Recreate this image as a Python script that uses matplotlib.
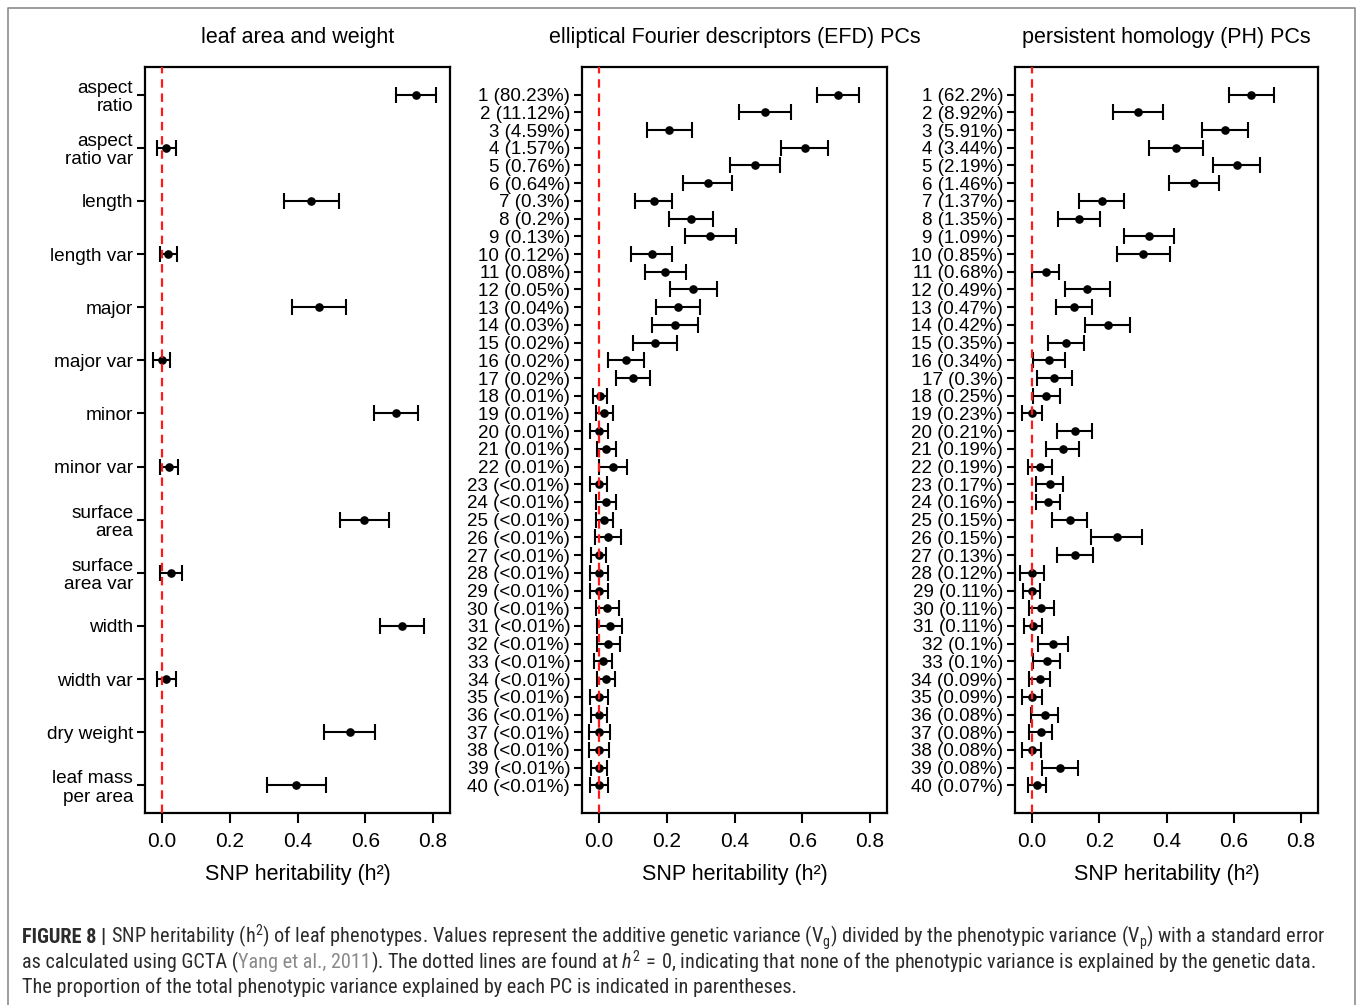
import matplotlib
matplotlib.use("Agg")
import matplotlib.pyplot as plt
from matplotlib import font_manager
import numpy as np

plt.rcParams['font.family'] = ['Liberation Sans', 'DejaVu Sans']

# ---------------- data ----------------
leaf_labels = ["aspect\nratio", "aspect\nratio var", "length", "length var", "major",
               "major var", "minor", "minor var", "surface\narea", "surface\narea var",
               "width", "width var", "dry weight", "leaf mass\nper area"]
leaf_h2 = [0.751, 0.012, 0.441, 0.019, 0.464, 0.000, 0.690, 0.021, 0.597, 0.026,
           0.708, 0.013, 0.554, 0.397]
leaf_se = [0.059, 0.028, 0.080, 0.026, 0.079, 0.025, 0.065, 0.027, 0.072, 0.032,
           0.065, 0.028, 0.075, 0.087]

efd_pct = ["80.23%", "11.12%", "4.59%", "1.57%", "0.76%", "0.64%", "0.3%", "0.2%",
           "0.13%", "0.12%", "0.08%", "0.05%", "0.04%", "0.03%", "0.02%", "0.02%",
           "0.02%", "0.01%", "0.01%", "0.01%", "0.01%", "0.01%"] + ["<0.01%"] * 18
efd_h2 = [0.706, 0.491, 0.208, 0.607, 0.460, 0.321, 0.161, 0.272, 0.328, 0.156,
          0.196, 0.278, 0.232, 0.225, 0.166, 0.080, 0.100, 0.003, 0.015, 0.000,
          0.022, 0.042, 0.000, 0.021, 0.016, 0.027, 0.000, 0.000, 0.001, 0.025,
          0.032, 0.027, 0.012, 0.020, 0.000, 0.000, 0.001, 0.001, 0.000, 0.000]
efd_se = [0.062, 0.077, 0.067, 0.070, 0.074, 0.073, 0.054, 0.064, 0.075, 0.060,
          0.060, 0.069, 0.065, 0.068, 0.065, 0.053, 0.051, 0.021, 0.025, 0.027,
          0.029, 0.042, 0.025, 0.029, 0.026, 0.038, 0.022, 0.027, 0.026, 0.033,
          0.037, 0.034, 0.027, 0.027, 0.026, 0.024, 0.031, 0.029, 0.024, 0.027]

ph_pct = ["62.2%", "8.92%", "5.91%", "3.44%", "2.19%", "1.46%", "1.37%", "1.35%",
          "1.09%", "0.85%", "0.68%", "0.49%", "0.47%", "0.42%", "0.35%", "0.34%",
          "0.3%", "0.25%", "0.23%", "0.21%", "0.19%", "0.19%", "0.17%", "0.16%",
          "0.15%", "0.15%", "0.13%", "0.12%", "0.11%", "0.11%", "0.11%", "0.1%",
          "0.1%", "0.09%", "0.09%", "0.08%", "0.08%", "0.08%", "0.08%", "0.07%"]
ph_h2 = [0.652, 0.316, 0.574, 0.428, 0.608, 0.482, 0.208, 0.140, 0.349, 0.331,
         0.041, 0.165, 0.125, 0.225, 0.102, 0.051, 0.066, 0.043, 0.000, 0.127,
         0.092, 0.024, 0.053, 0.048, 0.112, 0.252, 0.128, 0.000, 0.000, 0.028,
         0.003, 0.063, 0.044, 0.024, 0.000, 0.038, 0.026, 0.000, 0.084, 0.016]
ph_se = [0.066, 0.075, 0.069, 0.079, 0.070, 0.075, 0.067, 0.063, 0.074, 0.078,
         0.041, 0.067, 0.053, 0.068, 0.053, 0.048, 0.052, 0.041, 0.030, 0.053,
         0.049, 0.035, 0.040, 0.035, 0.053, 0.075, 0.053, 0.035, 0.025, 0.037,
         0.027, 0.044, 0.040, 0.031, 0.029, 0.039, 0.033, 0.028, 0.053, 0.027]

titles = ["leaf area and weight", "elliptical Fourier descriptors (EFD) PCs",
          "persistent homology (PH) PCs"]
xticks = [0.0, 0.2, 0.4, 0.6, 0.8]
xlabel = "SNP heritability (h²)"

# ---------------- figure ----------------
W, H = 1358, 1005
fig = plt.figure(figsize=(W / 100, H / 100), dpi=100)

def px_axes(x0, x1, y0, y1):
    return fig.add_axes([x0 / W, (H - y1) / H, (x1 - x0) / W, (y1 - y0) / H])

ax_l = px_axes(145, 450, 67, 813)
ax_m = px_axes(582, 887, 67, 813)
ax_r = px_axes(1015, 1318, 67, 813)

efd_labels = [f"{i + 1} ({p})" for i, p in enumerate(efd_pct)]
ph_labels = [f"{i + 1} ({p})" for i, p in enumerate(ph_pct)]

panels = [
    (ax_l, leaf_labels, leaf_h2, leaf_se, 13.7),
    (ax_m, efd_labels, efd_h2, efd_se, 13.5),
    (ax_r, ph_labels, ph_h2, ph_se, 13.5),
]

for k, (ax, labels, h2, se, fs) in enumerate(panels):
    n = len(labels)
    ypos = np.arange(1, n + 1)
    ax.errorbar(h2, ypos, xerr=se, fmt='o', color='black', ms=5.2,
                capsize=5.5, elinewidth=1.5, capthick=1.5, zorder=3)
    ax.axvline(0, color='#ff1a1a', lw=1.6, ls=(0, (3.8, 2.6)), zorder=4)
    pad = 0.04 * (n - 1)
    ax.set_ylim(n + pad, 1 - pad)
    ax.set_xlim(-0.05, 0.85)
    ax.set_yticks(ypos)
    ax.set_yticklabels(labels, fontsize=fs, ha='right', multialignment='right',
                       linespacing=1.12)
    ax.set_xticks(xticks)
    ax.set_xticklabels([f"{v:.1f}" for v in xticks], fontsize=15)
    ax.tick_params(axis='x', length=7, width=1.5, pad=7, direction='out')
    ax.tick_params(axis='y', length=6, width=1.5, pad=2.5, direction='out')
    for s in ax.spines.values():
        s.set_linewidth(1.6)
    ax.set_title(titles[k], fontsize=15.5, pad=17)
    ax.set_xlabel(xlabel, fontsize=15.5, labelpad=9)

# outer border (open at bottom)
fig.add_artist(plt.Line2D([8 / W, 8 / W, 1355 / W, 1355 / W],
                          [0, 1 - 8 / H, 1 - 8 / H, 0],
                          transform=fig.transFigure, color='#8c8c8c', lw=1.2))

# ---------------- caption ----------------
available = {f.name for f in font_manager.fontManager.ttflist}
cap_main = 'Liberation Sans'
for cand in ['Liberation Sans Narrow', 'Roboto Condensed', 'DejaVu Sans Condensed',
             'Open Sans Condensed', 'Noto Sans Condensed']:
    if cand in available:
        cap_main = cand
        break
cap_family = [cap_main, 'Liberation Sans', 'DejaVu Sans']
plt.rcParams['mathtext.fontset'] = 'custom'
plt.rcParams['mathtext.rm'] = cap_main
plt.rcParams['mathtext.it'] = cap_main + ':italic'
plt.rcParams['mathtext.bf'] = cap_main + ':bold'
cap_col = '#2b2b2b'
link_col = '#8a8a8a'

lines = [
    [("FIGURE 8 |", 'bold', cap_col, False),
     ("SNP heritability (h$^{2}$) of leaf phenotypes. Values represent the additive genetic variance (V$_\\mathrm{g}$) divided by the phenotypic variance (V$_\\mathrm{p}$) with a standard error", 'normal', cap_col, True)],
    [("as calculated using GCTA (", 'normal', cap_col, False),
     ("Yang et al., 2011", 'normal', link_col, False),
     ("). The dotted lines are found at $h^{2}\\,=\\,0$, indicating that none of the phenotypic variance is explained by the genetic data.", 'normal', cap_col, False)],
    [("The proportion of the total phenotypic variance explained by each PC is indicated in parentheses.", 'normal', cap_col, False)],
]
line_y = [937, 962, 987]

fig.canvas.draw()
renderer = fig.canvas.get_renderer()


def measure(text, fs, weight='normal'):
    t = fig.text(0, 0, text, fontsize=fs, family=cap_family, weight=weight)
    w = t.get_window_extent(renderer).width
    t.remove()
    return w


def line_width(segs, fs):
    sw = measure("a a", fs) - measure("aa", fs)
    total = 0.0
    for text, weight, col, sp in segs:
        if sp:
            total += sw
        total += measure(text, fs, weight)
    return total


base_fs = 13.2
w1 = line_width(lines[0], base_fs)
target = 1306.0
cap_fs = min(15.5, base_fs * target / w1)
space_w = measure("a a", cap_fs) - measure("aa", cap_fs)

for segs, yy in zip(lines, line_y):
    x = 22.0
    for text, weight, col, sp in segs:
        if sp:
            x += space_w
        t = fig.text(x / W, 1 - yy / H, text, fontsize=cap_fs, family=cap_family,
                     weight=weight, color=col, va='center', ha='left')
        x += t.get_window_extent(renderer).width

fig.savefig("out.png", dpi=100)
